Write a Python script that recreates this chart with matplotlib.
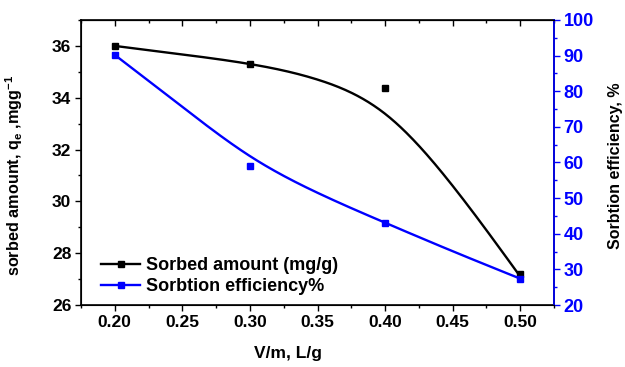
import numpy as np
import matplotlib
matplotlib.use("Agg")
import matplotlib.pyplot as plt

# measured points
vm = [0.20, 0.30, 0.40, 0.50]
sorbed = [36.0, 35.3, 34.36, 27.18]
efficiency = [90.2, 59.1, 43.1, 27.4]

# smooth curves
curve_x = [0.20, 0.25, 0.30, 0.35, 0.40, 0.45, 0.50]
sorbed_curve = [36.0, 35.67, 35.3, 34.7, 33.38, 30.6, 27.1]
eff_curve = [90.2, 75.6, 61.8, 51.5, 43.1, 35.1, 27.4]

xticks = [0.20, 0.25, 0.30, 0.35, 0.40, 0.45, 0.50]
left_ticks = [26, 28, 30, 32, 34, 36]
right_ticks = [20, 30, 40, 50, 60, 70, 80, 90, 100]


def spline(x, y, xs):
    # natural cubic spline through the read points
    x = np.asarray(x, float)
    y = np.asarray(y, float)
    n = len(x)
    h = np.diff(x)
    A = np.zeros((n, n))
    b = np.zeros(n)
    A[0, 0] = A[-1, -1] = 1
    for i in range(1, n - 1):
        A[i, i - 1] = h[i - 1]
        A[i, i] = 2 * (h[i - 1] + h[i])
        A[i, i + 1] = h[i]
        b[i] = 3 * ((y[i + 1] - y[i]) / h[i] - (y[i] - y[i - 1]) / h[i - 1])
    c = np.linalg.solve(A, b)
    idx = np.clip(np.searchsorted(x, xs) - 1, 0, n - 2)
    dx = xs - x[idx]
    bb = (y[idx + 1] - y[idx]) / h[idx] - h[idx] * (2 * c[idx] + c[idx + 1]) / 3
    d = (c[idx + 1] - c[idx]) / (3 * h[idx])
    return y[idx] + bb * dx + c[idx] * dx ** 2 + d * dx ** 3


plt.rcParams['font.family'] = ['Liberation Sans', 'DejaVu Sans']
plt.rcParams['font.weight'] = 'bold'
plt.rcParams['mathtext.default'] = 'regular'

fig = plt.figure(figsize=(6.25, 3.67), dpi=100)
ax = fig.add_axes([81 / 625, 1 - 305 / 367, 473 / 625, 285 / 367])
ax2 = ax.twinx()

xs = np.linspace(0.2, 0.5, 300)
ax.plot(xs, spline(curve_x, sorbed_curve, xs), color='black', lw=1.7)
ax.plot(vm, sorbed, 's', color='black', ms=4.5)
ax2.plot(xs, spline(curve_x, eff_curve, xs), color='blue', lw=1.7)
ax2.plot(vm, efficiency, 's', color='blue', ms=4.5)

ax.set_xlim(0.175, 0.525)
ax.set_ylim(26, 37)
ax2.set_ylim(20, 100)

ax.set_xticks(xticks)
ax.set_xticklabels([f"{t:.2f}" for t in xticks])
ax.set_xticks(np.arange(0.175, 0.526, 0.025), minor=True)
ax.set_yticks(left_ticks)
ax.set_yticks(np.arange(26, 37.01, 1), minor=True)
ax2.set_yticks(right_ticks)
ax2.set_yticks(np.arange(20, 100.1, 5), minor=True)

ax.tick_params(axis='both', which='both', direction='out', width=1, labelsize=12.5)
ax.tick_params(which='major', length=4, pad=3)
ax.tick_params(which='minor', length=2.5)
ax.tick_params(axis='x', which='both', top=False)
ax2.tick_params(axis='y', which='both', colors='blue', direction='out', width=1, labelsize=13)
ax2.tick_params(which='major', length=4, pad=3)
ax2.tick_params(which='minor', length=2.5)

# top ticks point inward
secx = ax.secondary_xaxis('top')
secx.set_xticks(xticks)
secx.set_xticks(np.arange(0.175, 0.526, 0.025), minor=True)
secx.tick_params(which='both', direction='in', labeltop=False, width=1)
secx.tick_params(which='major', length=4)
secx.tick_params(which='minor', length=2.5)

for lab in ax.get_xticklabels() + ax.get_yticklabels() + ax2.get_yticklabels():
    lab.set_fontweight('bold')

for sp in ax.spines.values():
    sp.set_linewidth(1.2)
ax2.spines['right'].set_color('blue')
ax2.spines['right'].set_linewidth(1.2)

ax.set_xlabel('V/m, L/g', fontsize=12.5, fontweight='bold')
ax.xaxis.set_label_coords((288 - 81) / 473, -0.145)
ax.set_ylabel(r'sorbed amount, q$_{e}$ ,mgg$^{-1}$', fontsize=11.7, fontweight='bold')
ax.yaxis.set_label_coords(-0.118, 0.455)
ax2.set_ylabel('Sorbtion efficiency, %', fontsize=11.5, fontweight='bold')
ax2.yaxis.set_label_coords(1.115, 0.49)

h1, = ax.plot([], [], '-s', color='black', lw=1.7, ms=4.5)
h2, = ax2.plot([], [], '-s', color='blue', lw=1.7, ms=4.5)
leg = ax2.legend([h1, h2], ['Sorbed amount (mg/g)', 'Sorbtion efficiency%'],
                 loc='lower left', bbox_to_anchor=(0.015, -0.01), frameon=False,
                 prop={'size': 13, 'weight': 'bold'}, handlelength=2.2,
                 handletextpad=0.3, labelspacing=0.22, borderaxespad=0.3)

fig.savefig('out.png', dpi=100)
